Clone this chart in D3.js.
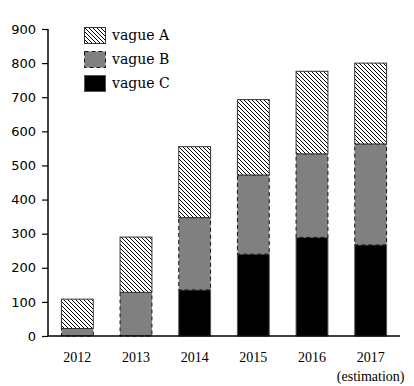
<!DOCTYPE html>
<html>
<head>
<meta charset="utf-8">
<script src="https://cdn.jsdelivr.net/npm/d3@7"></script>
<style>
  body { margin: 0; background: #fff; }
  .tick-y text { font-family: "DejaVu Sans", sans-serif; font-size: 13px; }
  .tick-x text { font-family: "Liberation Serif", serif; font-size: 14px; }
  .legend-label { font-family: "DejaVu Serif", serif; font-size: 14px; }
</style>
</head>
<body>
<div id="chart"></div>
<script>
// Data
const years = ['2012', '2013', '2014', '2015', '2016', '2017'];
const vagueC = [0, 0, 135, 240, 289, 267];
const vagueB = [22, 128, 212, 232, 245, 296];
const vagueA = [86, 162, 208, 221, 242, 237];
const seriesNames = ['vague C', 'vague B', 'vague A'];
const yTicks = [0, 100, 200, 300, 400, 500, 600, 700, 800, 900];

const width = 414;
const height = 386;
const margin = { left: 48, right: 14, top: 29, bottom: 50 };

const svg = d3.select('#chart')
    .append('svg')
    .attr('width', width)
    .attr('height', height);

// hatch pattern for vague A
const defs = svg.append('defs');
const pat = defs.append('pattern')
    .attr('id', 'hatch')
    .attr('patternUnits', 'userSpaceOnUse')
    .attr('width', 4)
    .attr('height', 4);
pat.append('rect').attr('width', 4).attr('height', 4).attr('fill', '#fff');
pat.append('path')
    .attr('d', 'M0,0 L4,4 M-1,3 L1,5 M3,-1 L5,1')
    .attr('stroke', '#000')
    .attr('stroke-width', 1);

const styles = {
    'vague A': { fill: 'url(#hatch)', stroke: '#333', dash: null },
    'vague B': { fill: '#808080', stroke: '#111', dash: '4,3' },
    'vague C': { fill: '#000', stroke: '#555', dash: null }
};

const x = d3.scaleBand()
    .domain(years)
    .range([margin.left, width - margin.right])
    .paddingInner(0.44)
    .paddingOuter(0.22);

const y = d3.scaleLinear()
    .domain([0, 900])
    .range([336, margin.top]);

// build stacked table
const table = years.map((yr, i) => ({
    year: yr,
    'vague C': vagueC[i],
    'vague B': vagueB[i],
    'vague A': vagueA[i]
}));
const stacked = d3.stack().keys(seriesNames)(table);

stacked.forEach(layer => {
    const st = styles[layer.key];
    svg.append('g')
        .selectAll('rect')
        .data(layer.filter(d => d[1] - d[0] > 0))
        .join('rect')
        .attr('x', d => x(d.data.year) + 0.5)
        .attr('width', x.bandwidth() - 1)
        .attr('y', d => y(d[1]))
        .attr('height', d => y(d[0]) - y(d[1]))
        .attr('fill', st.fill)
        .attr('stroke', st.stroke)
        .attr('stroke-width', 1)
        .attr('stroke-dasharray', st.dash);
});

// y axis
const yAxis = svg.append('g')
    .attr('class', 'tick-y')
    .attr('transform', `translate(${margin.left},0)`)
    .call(d3.axisLeft(y).tickValues(yTicks).tickSize(6).tickPadding(6));
yAxis.select('.domain').attr('stroke-width', 1.5).attr('d', `M-0,${y(0)}V${y(900)}`);
yAxis.selectAll('.tick line').attr('stroke-width', 1.2);
yAxis.selectAll('.tick text').attr('fill', '#000');

// x axis
const xAxis = svg.append('g')
    .attr('class', 'tick-x')
    .attr('transform', `translate(0,${y(0)})`)
    .call(d3.axisBottom(x).tickSize(0).tickPadding(16));
xAxis.select('.domain').attr('stroke-width', 1.5)
    .attr('d', `M${margin.left},0H${width - margin.right}`);
xAxis.selectAll('.tick text').attr('fill', '#000');
xAxis.selectAll('.tick')
    .filter(d => d === '2017')
    .append('text')
    .attr('y', 35)
    .attr('fill', '#000')
    .attr('text-anchor', 'middle')
    .attr('dy', '0.71em')
    .text('(estimation)');

// legend
const legend = svg.append('g').attr('transform', 'translate(84,27)');
['vague A', 'vague B', 'vague C'].forEach((name, i) => {
    const st = styles[name];
    const g = legend.append('g').attr('transform', `translate(0,${i * 24})`);
    g.append('rect')
        .attr('x', 0.5).attr('y', 0.5)
        .attr('width', 21).attr('height', 16)
        .attr('fill', st.fill)
        .attr('stroke', st.stroke)
        .attr('stroke-dasharray', st.dash);
    g.append('text')
        .attr('class', 'legend-label')
        .attr('x', 28)
        .attr('y', 13)
        .text(name);
});
</script>
</body>
</html>
